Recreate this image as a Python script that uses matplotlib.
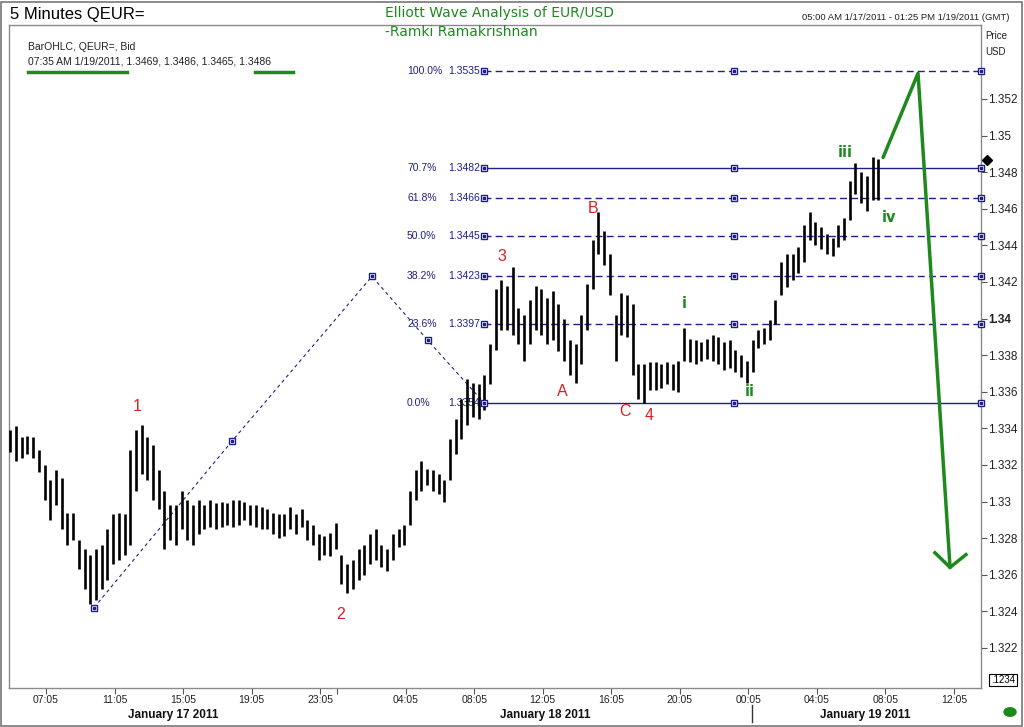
import numpy as np
import matplotlib.pyplot as plt
from matplotlib.patches import Rectangle, Circle
from matplotlib.lines import Line2D

plt.rcParams['font.family'] = ['Liberation Sans', 'DejaVu Sans']

# 20 minute bars, time in hours counted from 1/17/2011 00:00
bar_start = 5.0
bar_step = 1 / 3
bar_high = [1.3339, 1.3341, 1.3335, 1.3336, 1.3335, 1.3328, 1.3320, 1.3312, 1.3317, 1.3313,
            1.3294, 1.3294, 1.3279, 1.3274, 1.3271, 1.3274, 1.3276, 1.3285, 1.3293, 1.3294,
            1.3293, 1.3328, 1.3339, 1.3342, 1.3335, 1.3331, 1.3317, 1.3306, 1.3298, 1.3298,
            1.3306, 1.3301, 1.3298, 1.3301, 1.3298, 1.3301, 1.3299, 1.3300, 1.3299, 1.3301,
            1.3301, 1.3300, 1.3298, 1.3298, 1.3297, 1.3296, 1.3294, 1.3293, 1.3293, 1.3297,
            1.3293, 1.3296, 1.3290, 1.3287, 1.3282, 1.3281, 1.3283, 1.3288, 1.3271, 1.3266,
            1.3268, 1.3274, 1.3276, 1.3282, 1.3285, 1.3276, 1.3274, 1.3282, 1.3285, 1.3287,
            1.3306, 1.3317, 1.3322, 1.3318, 1.3317, 1.3315, 1.3312, 1.3334, 1.3345, 1.3356,
            1.3367, 1.3365, 1.3364, 1.3369, 1.3386, 1.3416, 1.3421, 1.3418, 1.3428, 1.3406,
            1.3402, 1.3410, 1.3418, 1.3416, 1.3411, 1.3415, 1.3408, 1.3400, 1.3388, 1.3386,
            1.3402, 1.3419, 1.3443, 1.3458, 1.3448, 1.3435, 1.3402, 1.3414, 1.3413, 1.3408,
            1.3375, 1.3375, 1.3376, 1.3376, 1.3375, 1.3376, 1.3375, 1.3377, 1.3395, 1.3389,
            1.3388, 1.3387, 1.3389, 1.3391, 1.3390, 1.3387, 1.3388, 1.3383, 1.3380, 1.3377,
            1.3388, 1.3394, 1.3395, 1.3399, 1.3410, 1.3431, 1.3435, 1.3435, 1.3439, 1.3451,
            1.3458, 1.3453, 1.3450, 1.3446, 1.3444, 1.3451, 1.3455, 1.3475, 1.3485, 1.3480,
            1.3478, 1.3488, 1.3487]
bar_low = [1.3327, 1.3322, 1.3324, 1.3326, 1.3324, 1.3316, 1.3301, 1.3290, 1.3298, 1.3285,
           1.3276, 1.3279, 1.3263, 1.3252, 1.3244, 1.3246, 1.3252, 1.3257, 1.3266, 1.3268,
           1.3271, 1.3276, 1.3306, 1.3315, 1.3312, 1.3301, 1.3296, 1.3274, 1.3279, 1.3276,
           1.3285, 1.3279, 1.3276, 1.3282, 1.3285, 1.3286, 1.3285, 1.3286, 1.3287, 1.3286,
           1.3287, 1.3290, 1.3287, 1.3286, 1.3285, 1.3285, 1.3282, 1.3280, 1.3281, 1.3285,
           1.3282, 1.3286, 1.3279, 1.3276, 1.3268, 1.3271, 1.3270, 1.3274, 1.3255, 1.3250,
           1.3252, 1.3257, 1.3260, 1.3266, 1.3268, 1.3264, 1.3262, 1.3268, 1.3275, 1.3276,
           1.3287, 1.3301, 1.3306, 1.3309, 1.3306, 1.3304, 1.3300, 1.3312, 1.3326, 1.3334,
           1.3342, 1.3346, 1.3345, 1.3350, 1.3364, 1.3383, 1.3394, 1.3394, 1.3391, 1.3386,
           1.3377, 1.3386, 1.3394, 1.3391, 1.3386, 1.3388, 1.3382, 1.3377, 1.3369, 1.3365,
           1.3375, 1.3394, 1.3416, 1.3435, 1.3429, 1.3413, 1.3377, 1.3391, 1.3390, 1.3369,
           1.3356, 1.3354, 1.3361, 1.3361, 1.3362, 1.3364, 1.3361, 1.3360, 1.3377, 1.3376,
           1.3375, 1.3377, 1.3378, 1.3377, 1.3375, 1.3372, 1.3373, 1.3371, 1.3368, 1.3365,
           1.3371, 1.3384, 1.3386, 1.3388, 1.3397, 1.3413, 1.3417, 1.3421, 1.3425, 1.3431,
           1.3443, 1.3440, 1.3438, 1.3435, 1.3434, 1.3439, 1.3443, 1.3454, 1.3468, 1.3463,
           1.3459, 1.3465, 1.3465]

# fibonacci levels
fib_pct = ["100.0%", "70.7%", "61.8%", "50.0%", "38.2%", "23.6%", "0.0%"]
fib_price = [1.3535, 1.3482, 1.3466, 1.3445, 1.3423, 1.3397, 1.3354]
fib_solid = [False, True, False, False, False, False, True]
fib_t = [32.65, 47.25, 61.67]

# dashed drawing tool line
tool_t = [9.885, 17.94, 26.11, 29.38, 32.65]
tool_p = [1.3242, 1.3333, 1.3423, 1.3388, 1.3354]

# projected move (green arrow)
proj_t = [55.95, 57.99, 59.86]
proj_p = [1.3488, 1.3534, 1.3264]
head_t = [58.98, 59.86, 60.79]
head_p = [1.3272, 1.3264, 1.3271]

red_lab = ["1", "2", "3", "A", "B", "C", "4"]
red_t = [12.40, 24.30, 33.70, 37.21, 39.02, 40.88, 42.28]
red_p = [1.3352, 1.3238, 1.3434, 1.3360, 1.3460, 1.3349, 1.3347]
green_lab = ["i", "ii", "iii", "iv"]
green_t = [44.33, 48.18, 53.73, 56.30]
green_p = [1.3408, 1.3360, 1.3491, 1.3455]

xtick_t = [7.083, 11.083, 15.083, 19.083, 23.083, 24.083, 28.083, 32.083, 36.083,
           40.083, 44.083, 48.083, 52.083, 56.083, 60.083]
xtick_lab = ["07:05", "11:05", "15:05", "19:05", "23:05", "", "04:05", "08:05", "12:05",
             "16:05", "20:05", "00:05", "04:05", "08:05", "12:05"]
day_lab = ["January 17 2011", "January 18 2011", "January 19 2011"]
day_t = [14.50, 36.21, 54.89]

navy = "#1f1f86"
green = "#1e8a1e"
red = "#d42222"

W, H = 1024, 727
fig = plt.figure(figsize=(W / 100, H / 100), dpi=100)
ax = fig.add_axes([9 / W, 1 - 688 / H, 972 / W, 663 / H])

def fx(x):
    return x / W

def fy(y):
    return 1 - y / H

# price bars
bar_t = bar_start + bar_step * np.arange(len(bar_high))
ax.vlines(bar_t, bar_low, bar_high, color="black", lw=1.9, zorder=3)

# fib lines
for pct, p, solid in zip(fib_pct, fib_price, fib_solid):
    ls = "-" if solid else (0, (5, 3))
    ax.plot([fib_t[0], fib_t[-1]], [p, p], color=navy, lw=1, ls=ls, zorder=2)
    ax.plot(fib_t, [p] * 3, ls="none", marker="s", ms=5, mfc="white", mec=navy,
            mew=1, zorder=4, clip_on=False)
    ax.plot(fib_t, [p] * 3, ls="none", marker="s", ms=1.8, color=navy, zorder=5,
            clip_on=False)
    ax.text(28.16, p, pct, color=navy, fontsize=7.5, va="center", ha="left", zorder=1)
    ax.text(30.55, p, f"{p:.4f}", color=navy, fontsize=7.5, va="center", ha="left",
            zorder=1)

# tool line
ax.plot(tool_t, tool_p, color=navy, lw=0.8, ls=(0, (3, 3)), zorder=2)
ax.plot(tool_t[:4], tool_p[:4], ls="none", marker="s", ms=5, mfc="white", mec=navy,
        mew=1, zorder=4)
ax.plot(tool_t[:4], tool_p[:4], ls="none", marker="s", ms=1.8, color=navy, zorder=5)

# projection arrow
ax.plot(proj_t, proj_p, color=green, lw=2.5, solid_capstyle="round", zorder=6)
ax.plot(head_t, head_p, color=green, lw=2.5, solid_joinstyle="miter", zorder=6)

for s, t, p in zip(red_lab, red_t, red_p):
    ax.text(t, p, s, color=red, fontsize=11.5, ha="center", va="center", zorder=7)
for s, t, p in zip(green_lab, green_t, green_p):
    ax.text(t, p, s, color=green, fontsize=10.5, fontweight="bold", ha="center",
            va="center", family="DejaVu Sans", zorder=7)

# last price diamond
ax.plot([62.02], [1.34867], marker="D", ms=5, color="black", clip_on=False, zorder=8)

ax.set_xlim(4.923, 61.667)
ax.set_ylim(1.31981, 1.35604)

for sp in ax.spines.values():
    sp.set_color("#8a8a8a")
    sp.set_linewidth(1)

yt = np.round(np.arange(1.322, 1.3521, 0.002), 3)
ax.yaxis.tick_right()
ax.set_yticks(yt)
ax.set_yticklabels([f"{v:.3f}".rstrip("0") for v in yt])
for lab, v in zip(ax.get_yticklabels(), yt):
    if abs(v - 1.34) < 1e-6:
        lab.set_fontweight("bold")
        lab.set_fontsize(9.5)
ax.tick_params(axis="y", direction="out", length=4, width=0.8, color="#555555",
               labelsize=8.5, pad=1, labelcolor="#222222")
ax.set_xticks(xtick_t)
ax.set_xticklabels(xtick_lab)
ax.tick_params(axis="x", direction="out", length=4, width=0.8, color="#555555",
               labelsize=7.5, pad=1, labelcolor="#222222")

xt = ax.get_xaxis_transform()
for s, t in zip(day_lab, day_t):
    ax.text(t, -0.041, s, transform=xt, fontsize=8.5, fontweight="bold", ha="center",
            va="center", color="#111111")
ax.add_line(Line2D([48.3, 48.3], [-0.026, -0.052], transform=xt, color="#333333",
                   lw=1, clip_on=False))

# header texts
fig.text(fx(10), fy(14), "5 Minutes QEUR=", fontsize=12, ha="left", va="center")
fig.text(fx(385), fy(13), "Elliott Wave Analysis of EUR/USD", fontsize=10, color=green,
         ha="left", va="center", family="DejaVu Sans")
fig.text(fx(385), fy(32), "-Ramki Ramakrishnan", fontsize=10, color=green,
         ha="left", va="center", family="DejaVu Sans")
fig.text(fx(1010), fy(17), "05:00 AM 1/17/2011 - 01:25 PM 1/19/2011 (GMT)", fontsize=6.8,
         ha="right", va="center", color="#222222")
fig.text(fx(985), fy(36), "Price", fontsize=7, ha="left", va="center", color="#222222")
fig.text(fx(985), fy(52), "USD", fontsize=7, ha="left", va="center", color="#222222")
fig.text(fx(28), fy(47), "BarOHLC, QEUR=, Bid", fontsize=7.5, ha="left", va="center",
         color="#222222")
fig.text(fx(28), fy(61), "07:35 AM 1/19/2011, 1.3469, 1.3486, 1.3465, 1.3486", fontsize=7.5,
         ha="left", va="center", color="#222222")
fig.add_artist(Line2D([fx(28), fx(127)], [fy(72), fy(72)], color=green, lw=2.5))
fig.add_artist(Line2D([fx(255), fx(293)], [fy(72), fy(72)], color=green, lw=2.5))

# bottom right widgets
fig.text(fx(1003), fy(680), ".1234", fontsize=7, ha="center", va="center",
         bbox=dict(boxstyle="square,pad=0.15", fc="white", ec="black", lw=0.8))
fig.add_artist(Circle((fx(1010), fy(712)), 6 / W, color="#1a8a1a",
                      transform=fig.transFigure))

# outer frame
fig.add_artist(Rectangle((1 / W, 1 / H), 1 - 3 / W, 1 - 3 / H, fill=False,
                         ec="#777777", lw=1.2, transform=fig.transFigure))

fig.savefig("out.png", dpi=100)
